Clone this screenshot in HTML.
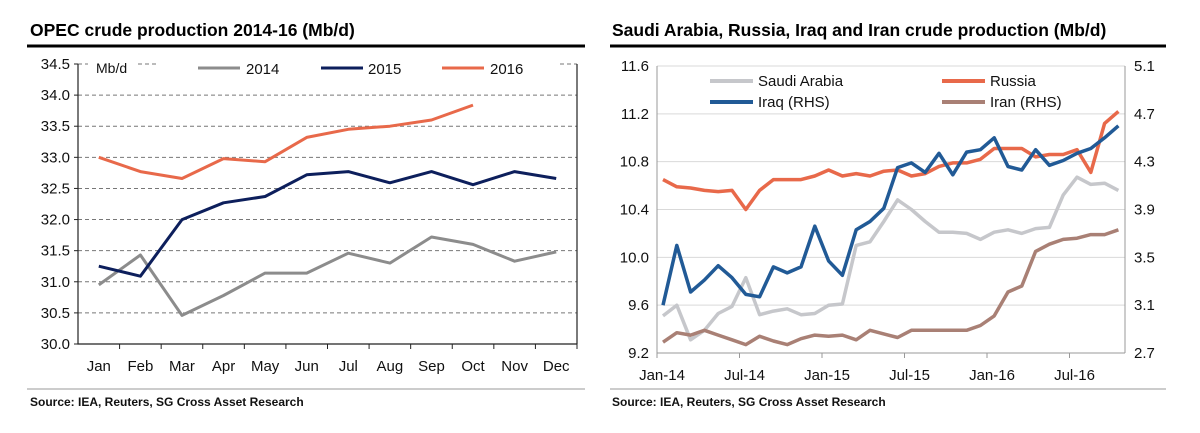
<!DOCTYPE html>
<html><head><meta charset="utf-8"><style>
body{margin:0;background:#fff;width:1200px;height:428px;overflow:hidden;font-family:"Liberation Sans",Arial,sans-serif}
svg text{font-family:"Liberation Sans",Arial,sans-serif}
</style></head><body>
<svg id="s" width="1200" height="428" viewBox="0 0 1200 428" xmlns="http://www.w3.org/2000/svg">
<text x="30" y="36" font-size="17.5" font-weight="bold" fill="#000">OPEC crude production 2014-16 (Mb/d)</text>
<line x1="27" y1="46" x2="585" y2="46" stroke="#000" stroke-width="3"/>
<text x="612" y="36" font-size="17.5" font-weight="bold" fill="#000">Saudi Arabia, Russia, Iraq and Iran crude production (Mb/d)</text>
<line x1="610" y1="46" x2="1166" y2="46" stroke="#000" stroke-width="3"/>
<line x1="27" y1="389" x2="585" y2="389" stroke="#999" stroke-width="1"/>
<line x1="610" y1="389" x2="1166" y2="389" stroke="#999" stroke-width="1"/>
<text x="30" y="406" font-size="12" font-weight="bold" fill="#111">Source: IEA, Reuters, SG Cross Asset Research</text>
<text x="612" y="406" font-size="12" font-weight="bold" fill="#111">Source: IEA, Reuters, SG Cross Asset Research</text>
<g id="L"></g>
<g id="R"></g>
</svg>
<script>
const months=["Jan","Feb","Mar","Apr","May","Jun","Jul","Aug","Sep","Oct","Nov","Dec"];
const yTicksL=[30.0,30.5,31.0,31.5,32.0,32.5,33.0,33.5,34.0,34.5];
const s2014=[30.95,31.43,30.46,30.78,31.14,31.14,31.46,31.3,31.72,31.6,31.33,31.48];
const s2015=[31.25,31.09,32.0,32.27,32.37,32.72,32.77,32.59,32.77,32.56,32.77,32.66];
const s2016=[33.0,32.77,32.66,32.98,32.93,33.32,33.45,33.5,33.6,33.84];

const xTicksR=["Jan-14","Jul-14","Jan-15","Jul-15","Jan-16","Jul-16"];
const yTicksRL=[9.2,9.6,10.0,10.4,10.8,11.2,11.6];
const yTicksRR=[2.7,3.1,3.5,3.9,4.3,4.7,5.1];
const saudi=[9.51,9.60,9.31,9.39,9.53,9.59,9.83,9.52,9.55,9.57,9.52,9.53,9.60,9.61,10.10,10.13,10.30,10.48,10.40,10.30,10.21,10.21,10.20,10.15,10.21,10.23,10.20,10.24,10.25,10.52,10.67,10.61,10.62,10.56];
const russia=[10.65,10.59,10.58,10.56,10.55,10.56,10.40,10.56,10.65,10.65,10.65,10.68,10.73,10.68,10.70,10.68,10.72,10.73,10.68,10.70,10.76,10.79,10.79,10.82,10.91,10.91,10.91,10.84,10.86,10.86,10.90,10.71,11.12,11.22];
const iraq=[3.10,3.60,3.21,3.31,3.43,3.33,3.19,3.17,3.42,3.37,3.42,3.76,3.47,3.35,3.73,3.80,3.91,4.25,4.29,4.21,4.37,4.19,4.38,4.40,4.50,4.26,4.23,4.40,4.27,4.31,4.37,4.41,4.50,4.60];
const iran=[2.79,2.87,2.85,2.89,2.85,2.81,2.77,2.84,2.80,2.77,2.82,2.85,2.84,2.85,2.81,2.89,2.86,2.83,2.89,2.89,2.89,2.89,2.89,2.93,3.01,3.21,3.26,3.55,3.61,3.65,3.66,3.69,3.69,3.73];

const NS="http://www.w3.org/2000/svg";
function mk(p,tag,a,t){const e=document.createElementNS(NS,tag);for(const k in a)e.setAttribute(k,a[k]);if(t!==undefined)e.textContent=t;p.appendChild(e);return e;}
function path(pts){return pts.map((p,i)=>(i?"L":"M")+p[0].toFixed(1)+","+p[1].toFixed(1)).join("");}

// LEFT
const L=document.getElementById("L");
const lx0=78,lx1=577,ly0=344,ly1=64,lmin=30,lmax=34.5;
const band=(lx1-lx0)/12;
const xL=i=>lx0+band*(i+0.5);
const yL=v=>ly0-(v-lmin)/(lmax-lmin)*(ly0-ly1);
yTicksL.forEach(v=>{
  if(v>lmin && v<lmax){const g=mk(L,"line",{x1:lx0,x2:lx1,y1:yL(v),y2:yL(v),stroke:"#777","stroke-dasharray":"4,3","stroke-width":1});
  
  }
  const t=mk(L,"text",{x:lx0-8,y:yL(v)+5,"font-size":15,"text-anchor":"end",fill:"#111"},v.toFixed(1));
  
  
  const tk=mk(L,"line",{x1:lx0-4,x2:lx0,y1:yL(v),y2:yL(v),stroke:"#222"});
  
  
});
[[lx0,lx0+10],[138,156],[560,lx1]].forEach(s=>{const g=mk(L,"line",{x1:s[0],x2:s[1],y1:yL(34.5),y2:yL(34.5),stroke:"#777","stroke-dasharray":"4,3"});

});
const ax=mk(L,"path",{d:`M${lx0},${ly1}L${lx0},${ly0}L${lx1},${ly0}M${lx1},${ly1}L${lx1},${ly0}`,stroke:"#222",fill:"none","stroke-width":1.2});


months.forEach((m,i)=>{
  const tk=mk(L,"line",{x1:lx0+band*(i+1),x2:lx0+band*(i+1),y1:ly0,y2:ly0+5,stroke:"#222"});
  
  
  const t=mk(L,"text",{x:xL(i),y:ly0+27,"font-size":15,"text-anchor":"middle",fill:"#111"},m);
  
  
});
[[s2014,"#8c8c8c","series-2014"],[s2015,"#0d1f5c","series-2015"],[s2016,"#e8694a","series-2016"]].forEach(([d,c,n])=>{
  const p=mk(L,"path",{d:path(d.map((v,i)=>[xL(i),yL(v)])),stroke:c,"stroke-width":3,fill:"none","stroke-linejoin":"round"});
  
  
});
const mbd=mk(L,"text",{x:96,y:73,"font-size":14,fill:"#111"},"Mb/d");


[[198,246,"#8c8c8c","2014"],[321,368,"#0d1f5c","2015"],[442,490,"#e8694a","2016"]].forEach(([x,tx,c,lab])=>{
  const g=mk(L,"g",{});
  
  
  mk(g,"line",{x1:x,x2:x+42,y1:68,y2:68,stroke:c,"stroke-width":3});
  mk(g,"text",{x:tx,y:74,"font-size":15,fill:"#111"},lab);
});

// RIGHT
const R=document.getElementById("R");
const rx0=657,rx1=1125,ry0=353,ry1=66;
const xR=m=>663+13.8*m;
const yRL=v=>ry0-(v-9.2)/2.4*(ry0-ry1);
const yRR=v=>ry0-(v-2.7)/2.4*(ry0-ry1);
yTicksRL.forEach((v,i)=>{
  if(i>0){const g=mk(R,"line",{x1:rx0,x2:rx1,y1:yRL(v),y2:yRL(v),stroke:"#d9d9d9","stroke-width":1});
  
  }
  const t=mk(R,"text",{x:rx0-8,y:yRL(v)+5,"font-size":15,"text-anchor":"end",fill:"#111"},v.toFixed(1));
  
  
});
yTicksRR.forEach(v=>{
  const t=mk(R,"text",{x:rx1+9,y:yRR(v)+5,"font-size":15,fill:"#111"},v.toFixed(1));
  
  
});
const ax2=mk(R,"path",{d:`M${rx0},${ry1}L${rx0},${ry0}L${rx1},${ry0}M${rx1},${ry1}L${rx1},${ry0}`,stroke:"#999",fill:"none","stroke-width":1});


xTicksR.forEach((lab,i)=>{
  const x=rx0+82.5*i;
  const tk=mk(R,"line",{x1:x,x2:x,y1:ry0,y2:ry0+5,stroke:"#999"});
  
  
  const t=mk(R,"text",{x:x+5,y:ry0+27,"font-size":15,"text-anchor":"middle",fill:"#111"},lab);
  
  
});
[[saudi,"#c6c7cb",yRL,"series-saudi-arabia"],[iran,"#a98075",yRR,"series-iran"],[russia,"#e8694a",yRL,"series-russia"],[iraq,"#215a96",yRR,"series-iraq"]].forEach(([d,c,f,n])=>{
  const p=mk(R,"path",{d:path(d.map((v,i)=>[xR(i),f(v)])),stroke:c,"stroke-width":3.5,fill:"none","stroke-linejoin":"round"});
  
  
});
[[710,81,"#c6c7cb","Saudi Arabia"],[942,81,"#e8694a","Russia"],[710,102,"#215a96","Iraq (RHS)"],[942,102,"#a98075","Iran (RHS)"]].forEach(([x,y,c,lab])=>{
  const g=mk(R,"g",{});
  
  
  mk(g,"line",{x1:x,x2:x+43,y1:y,y2:y,stroke:c,"stroke-width":4});
  mk(g,"text",{x:x+48,y:y+5,"font-size":15,fill:"#111"},lab);
});
</script>
</body></html>
